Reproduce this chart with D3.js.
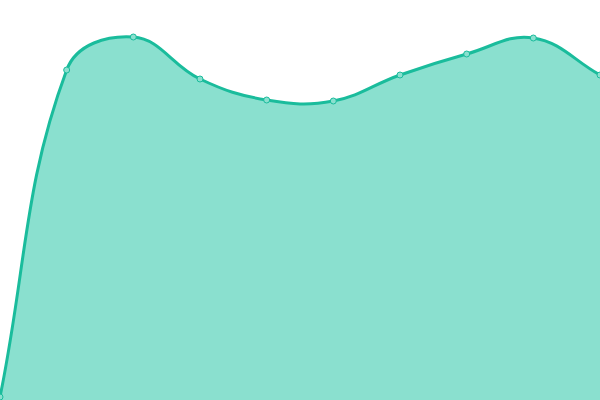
<!DOCTYPE html>
<html>
<head>
<meta charset="utf-8">
<script src="https://cdn.jsdelivr.net/npm/d3@7"></script>
<style>
  body { margin: 0; background: #fff; }
</style>
</head>
<body>
<div id="container"></div>
<script>
// values (no axes shown)
let labels = ["p0", "p1", "p2", "p3", "p4", "p5", "p6", "p7", "p8", "p9"];
let values = [3, 330, 363, 321, 300, 299, 325, 346, 362, 325];

let w = 600;
let h = 400;
let tension = 0.4;

let viz = d3.select("#container").append("svg")
    .attr("width", w)
    .attr("height", h)
;

let x = d3.scalePoint().domain(labels).range([0, w]);
let y = d3.scaleLinear().domain([0, 400]).range([h, 0]);

// spline curve: control points weighted by neighbour distances,
// endpoints use their own position as the missing neighbour
function splineCurve(context) {
  return {
    areaStart: function() { this._line = 0; },
    areaEnd: function() { this._line = NaN; },
    lineStart: function() { this._pts = []; },
    point: function(px, py) { this._pts.push([+px, +py]); },
    lineEnd: function() {
      let p = this._pts, n = p.length;
      if (n) {
        if (this._line) context.lineTo(p[0][0], p[0][1]);
        else context.moveTo(p[0][0], p[0][1]);
      }
      let cps = p.map((cur, i) => {
        let prev = p[i - 1] || cur, next = p[i + 1] || cur;
        let d01 = Math.hypot(cur[0] - prev[0], cur[1] - prev[1]);
        let d12 = Math.hypot(next[0] - cur[0], next[1] - cur[1]);
        let s01 = d01 / (d01 + d12) || 0, s12 = d12 / (d01 + d12) || 0;
        let fa = tension * s01, fb = tension * s12;
        return {
          prev: [cur[0] - fa * (next[0] - prev[0]), cur[1] - fa * (next[1] - prev[1])],
          next: [cur[0] + fb * (next[0] - prev[0]), cur[1] + fb * (next[1] - prev[1])]
        };
      });
      for (let i = 1; i < n; i++) {
        context.bezierCurveTo(cps[i - 1].next[0], cps[i - 1].next[1],
                              cps[i].prev[0], cps[i].prev[1],
                              p[i][0], p[i][1]);
      }
      if (this._line || (this._line !== 0 && n === 1)) context.closePath();
      this._line = 1 - this._line;
    }
  };
}

let area = d3.area()
    .x((d, i) => x(labels[i]))
    .y0(h)
    .y1(d => y(d))
    .curve(splineCurve)
;

let line = d3.line()
    .x((d, i) => x(labels[i]))
    .y(d => y(d))
    .curve(splineCurve)
;

viz.append("path")
    .datum(values)
    .attr("d", area)
    .attr("fill", "#8ae0cf")
;

viz.append("path")
    .datum(values)
    .attr("d", line)
    .attr("fill", "none")
    .attr("stroke", "#1abc9c")
    .attr("stroke-width", 3)
;

viz.selectAll(".dot").data(values).enter()
  .append("circle")
    .attr("class", "dot")
    .attr("cx", (d, i) => x(labels[i]))
    .attr("cy", d => y(d))
    .attr("r", 3)
    .attr("fill", "#8ae0cf")
    .attr("stroke", "#1abc9c")
    .attr("stroke-width", 1)
;
</script>
</body>
</html>
